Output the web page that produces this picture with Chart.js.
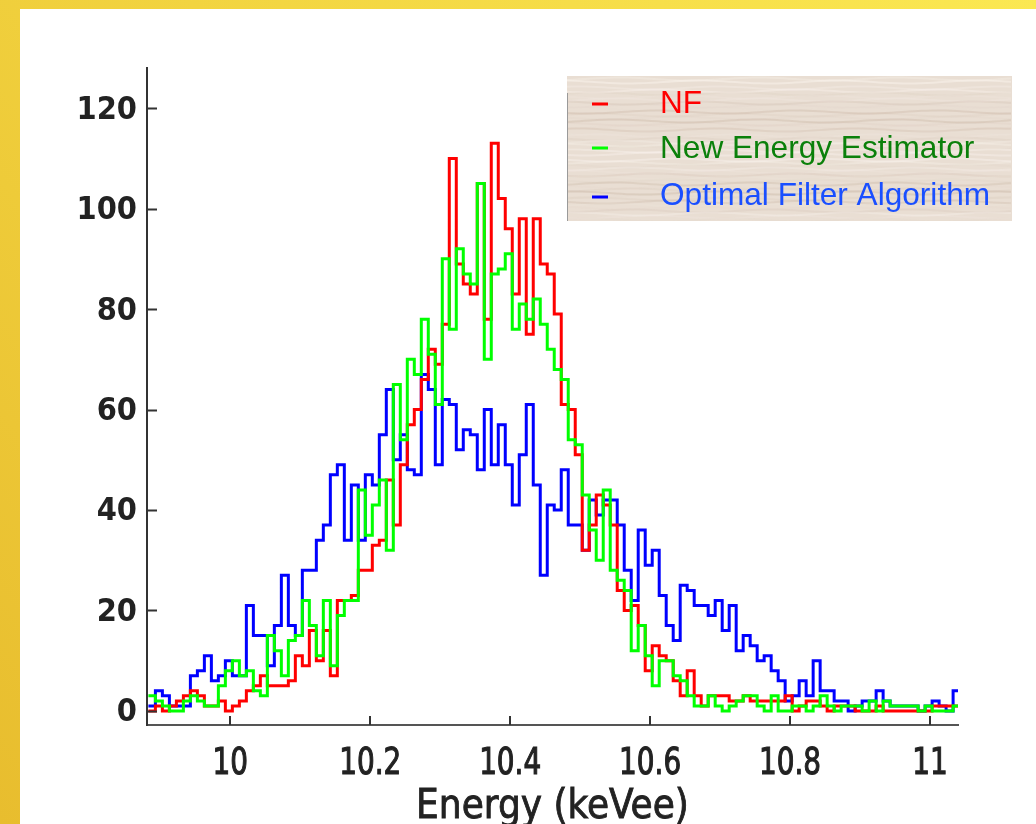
<!DOCTYPE html>
<html>
<head>
<meta charset="utf-8">
<script src="https://cdn.jsdelivr.net/npm/chart.js@4.4.1/dist/chart.umd.min.js"></script>
<style>
  html, body { margin: 0; padding: 0; background: #fff; }
  #wrap { width: 1036px; height: 824px; }
</style>
</head>
<body>
<div id="wrap"><canvas id="energyChart" width="1036" height="824"></canvas></div>
<script>
// histogram binning (keVee)
const binStart = 9.883;
const binWidth = 0.01;

// counts per bin
const nfCounts = [
  0, 1, 0, 1, 2, 3, 4, 3, 1, 1, 2, 0, 1, 2, 4, 5, 7, 5, 5, 5,
  6, 11, 9, 16, 10, 16, 7, 22, 22, 23, 28, 28, 33, 34, 46, 37, 49, 57, 60, 66,
  72, 69, 77, 110, 89, 85, 83, 105, 78, 113, 102, 96, 83, 98, 75, 98, 89, 87, 79, 61,
  60, 51, 32, 37, 43, 41, 37, 24, 20, 21, 17, 8, 13, 11, 10, 6, 3, 8, 3, 1,
  3, 3, 3, 2, 2, 3, 2, 2, 2, 2, 2, 3, 0, 1, 2, 2, 1, 0, 1, 1,
  1, 0, 0, 0, 1, 0, 0, 0, 0, 0, 0, 0, 1, 1, 1, 1
];
const neeCounts = [
  3, 2, 1, 0, 0, 2, 3, 2, 1, 1, 5, 8, 10, 7, 8, 4, 3, 15, 12, 7,
  14, 15, 22, 17, 11, 22, 9, 19, 22, 22, 44, 35, 41, 46, 32, 65, 54, 70, 67, 78,
  71, 61, 90, 76, 92, 87, 85, 105, 70, 87, 88, 91, 76, 81, 78, 82, 77, 72, 68, 66,
  54, 53, 43, 36, 30, 44, 28, 26, 24, 12, 17, 11, 5, 10, 10, 7, 6, 3, 1, 1,
  3, 1, 0, 1, 2, 3, 3, 1, 0, 3, 0, 0, 1, 1, 0, 1, 3, 1, 0, 1,
  1, 1, 0, 2, 0, 2, 1, 1, 1, 1, 0, 1, 0, 0, 0, 1
];
const ofaCounts = [
  1, 4, 3, 1, 1, 1, 7, 8, 11, 6, 7, 10, 7, 7, 21, 15, 15, 9, 17, 27,
  17, 15, 28, 28, 34, 37, 47, 49, 34, 45, 34, 47, 45, 55, 64, 50, 55, 48, 47, 67,
  64, 49, 62, 61, 52, 56, 55, 48, 60, 49, 57, 49, 41, 51, 61, 45, 27, 41, 40, 48,
  37, 37, 32, 42, 39, 42, 42, 37, 28, 22, 36, 29, 32, 23, 17, 14, 25, 24, 21, 21,
  19, 22, 16, 21, 12, 15, 13, 10, 11, 8, 6, 2, 3, 6, 3, 10, 4, 4, 2, 2,
  0, 1, 2, 2, 4, 2, 1, 1, 1, 1, 0, 1, 2, 1, 0, 4
];

const xTicks = [10, 10.2, 10.4, 10.6, 10.8, 11];
const yTicks = [0, 20, 40, 60, 80, 100, 120];
const xTitle = "Energy (keVee)";

const seriesNames = ["NF", "New Energy Estimator", "Optimal Filter Algorithm"];
const lineColors = ["#ff0000", "#00ff00", "#0000ff"];
const labelColors = ["#ff0000", "#0b800b", "#1a4fff"];

// left bin edges plus closing edge, for a stepped line
function stepPoints(counts) {
  const pts = counts.map((c, i) => ({ x: binStart + i * binWidth, y: c }));
  pts.push({ x: binStart + counts.length * binWidth, y: counts[counts.length - 1] });
  return pts;
}

function histSet(label, counts, color) {
  return {
    label: label,
    data: stepPoints(counts),
    borderColor: color,
    borderWidth: 3,
    stepped: "before",
    pointRadius: 0,
    fill: false,
    borderJoinStyle: "miter",
  };
}

// yellow frame around the white page
const framePlugin = {
  id: "frame",
  beforeDraw(chart) {
    const { ctx, width, height } = chart;
    ctx.save();
    const g = ctx.createLinearGradient(0, height, width, 0);
    g.addColorStop(0, "#e8bd2e");
    g.addColorStop(0.5, "#f2d440");
    g.addColorStop(1, "#fbe852");
    ctx.fillStyle = g;
    ctx.fillRect(0, 0, width, height);
    ctx.fillStyle = "#ffffff";
    ctx.fillRect(20, 9, width - 20, height - 9);
    ctx.restore();
  },
};

// slightly heavier text: fill plus a thin outline
function heavyText(ctx, text, x, y, weight) {
  ctx.fillText(text, x, y);
  ctx.lineWidth = weight;
  ctx.strokeText(text, x, y);
}

// tick marks pointing into the plot, tick labels and axis title
const axisDecor = {
  id: "axisDecor",
  afterDraw(chart) {
    const { ctx, chartArea, scales } = chart;
    ctx.save();
    ctx.strokeStyle = "#333";
    ctx.lineWidth = 2;
    ctx.beginPath();
    yTicks.forEach((v) => {
      const y = Math.round(scales.y.getPixelForValue(v)) + 0.5;
      ctx.moveTo(chartArea.left, y);
      ctx.lineTo(chartArea.left + 10, y);
    });
    xTicks.forEach((v) => {
      const x = Math.round(scales.x.getPixelForValue(v));
      ctx.moveTo(x, chartArea.bottom);
      ctx.lineTo(x, chartArea.bottom - 9);
    });
    ctx.stroke();

    ctx.fillStyle = "#222";
    ctx.strokeStyle = "#222";
    ctx.font = 'bold 29px "DejaVu Sans"';
    ctx.textAlign = "right";
    ctx.textBaseline = "middle";
    yTicks.forEach((v) => {
      const y = scales.y.getPixelForValue(v) + 2;
      ctx.save();
      ctx.translate(chartArea.left - 10, y);
      ctx.scale(1, 1.12);
      ctx.fillText(String(v), 0, 0);
      ctx.restore();
    });

    ctx.font = '31px "DejaVu Sans Condensed"';
    ctx.textAlign = "center";
    ctx.textBaseline = "alphabetic";
    xTicks.forEach((v) => {
      const x = scales.x.getPixelForValue(v);
      ctx.save();
      ctx.translate(x, chartArea.bottom + 49);
      ctx.scale(1, 1.22);
      heavyText(ctx, String(v), 0, 0, 0.9);
      ctx.restore();
    });

    ctx.font = '40px "DejaVu Sans Condensed"';
    heavyText(ctx, xTitle, (chartArea.left + chartArea.right) / 2, chartArea.bottom + 93, 0.8);
    ctx.restore();
  },
};

// legend on a parchment-like panel
const legendPanel = {
  id: "legendPanel",
  afterDraw(chart) {
    const ctx = chart.ctx;
    const box = { x: 567, y: 76, w: 445, h: 145 };
    ctx.save();
    ctx.fillStyle = "#e9ded3";
    ctx.fillRect(box.x, box.y, box.w, box.h);
    ctx.beginPath();
    ctx.rect(box.x, box.y, box.w, box.h);
    ctx.clip();
    ctx.lineWidth = 2;
    for (let y = box.y; y < box.y + box.h; y += 3) {
      const a = Math.sin(y * 1.7) * Math.cos(y * 0.31);
      ctx.strokeStyle = a > 0
        ? "rgba(255,250,245," + (a * 0.45).toFixed(3) + ")"
        : "rgba(185,160,140," + (-a * 0.25).toFixed(3) + ")";
      ctx.beginPath();
      for (let x = box.x; x <= box.x + box.w; x += 6) {
        const yy = y + 1.5 * Math.sin(x * 0.045 + y * 0.9);
        if (x === box.x) ctx.moveTo(x, yy);
        else ctx.lineTo(x, yy);
      }
      ctx.stroke();
    }
    ctx.restore();

    ctx.save();
    ctx.strokeStyle = "#9a9a9a";
    ctx.lineWidth = 1;
    ctx.beginPath();
    ctx.moveTo(box.x + 0.5, box.y + 17);
    ctx.lineTo(box.x + 0.5, box.y + box.h);
    ctx.stroke();

    const rows = [113, 158, 205];
    const marks = [104, 148, 197];
    ctx.font = '31.6px "Liberation Sans", Arial, sans-serif';
    ctx.textBaseline = "alphabetic";
    seriesNames.forEach((name, i) => {
      ctx.strokeStyle = lineColors[i];
      ctx.lineWidth = 3;
      ctx.beginPath();
      ctx.moveTo(592, marks[i]);
      ctx.lineTo(608, marks[i]);
      ctx.stroke();
      ctx.fillStyle = labelColors[i];
      ctx.fillText(name, 660, rows[i]);
    });
    ctx.restore();
  },
};

const ctx = document.getElementById("energyChart").getContext("2d");
const energyChart = new Chart(ctx, {
  type: "line",
  data: {
    datasets: [
      histSet(seriesNames[1], neeCounts, lineColors[1]),
      histSet(seriesNames[0], nfCounts, lineColors[0]),
      histSet(seriesNames[2], ofaCounts, lineColors[2]),
    ],
  },
  options: {
    responsive: false,
    animation: false,
    devicePixelRatio: 1,
    layout: { padding: { left: 0, right: 78, top: 68, bottom: 0 } },
    plugins: {
      legend: { display: false },
      tooltip: { enabled: false },
    },
    scales: {
      x: {
        type: "linear",
        min: 9.881,
        max: 11.04,
        grid: { display: false, drawTicks: false },
        border: { display: true, color: "#555", width: 2 },
        afterBuildTicks: (scale) => {
          scale.ticks = xTicks.map((v) => ({ value: v }));
        },
        afterFit: (scale) => {
          scale.height = 99;
        },
        ticks: { display: false },
      },
      y: {
        type: "linear",
        min: -2.8,
        max: 128,
        grid: { display: false, drawTicks: false },
        border: { display: true, color: "#333", width: 2 },
        afterBuildTicks: (scale) => {
          scale.ticks = yTicks.map((v) => ({ value: v }));
        },
        afterFit: (scale) => {
          scale.width = 147;
        },
        ticks: { display: false },
      },
    },
  },
  plugins: [framePlugin, axisDecor, legendPanel],
});
</script>
</body>
</html>
